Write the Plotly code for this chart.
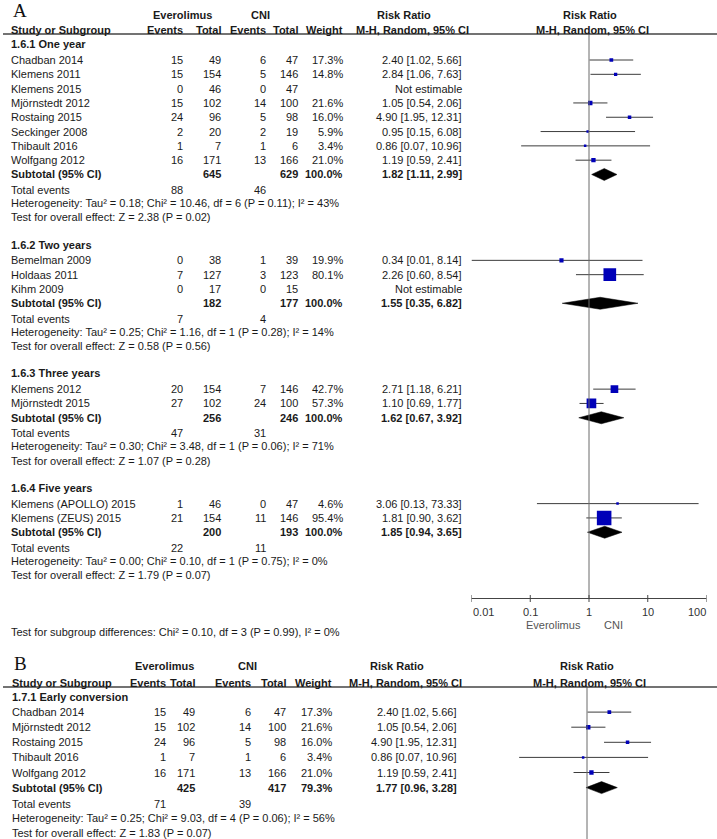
import math
import plotly.graph_objects as go

# ---------------- Panel A data ----------------
g1_name = "1.6.1 One year"
g1_study = ["Chadban 2014", "Klemens 2011", "Klemens 2015", "Mjörnstedt 2012", "Rostaing 2015",
            "Seckinger 2008", "Thibault 2016", "Wolfgang 2012"]
g1_ev_e = [15, 15, 0, 15, 24, 2, 1, 16]
g1_n_e = [49, 154, 46, 102, 96, 20, 7, 171]
g1_ev_c = [6, 5, 0, 14, 5, 2, 1, 13]
g1_n_c = [47, 146, 47, 100, 98, 19, 6, 166]
g1_w = [17.3, 14.8, None, 21.6, 16.0, 5.9, 3.4, 21.0]
g1_rr = [2.40, 2.84, None, 1.05, 4.90, 0.95, 0.86, 1.19]
g1_lo = [1.02, 1.06, None, 0.54, 1.95, 0.15, 0.07, 0.59]
g1_hi = [5.66, 7.63, None, 2.06, 12.31, 6.08, 10.96, 2.41]
g1_sub = [645, 629, 100.0, 1.82, 1.11, 2.99]
g1_tev = [88, 46]
g1_het = "Heterogeneity: Tau² = 0.18; Chi² = 10.46, df = 6 (P = 0.11); I² = 43%"
g1_test = "Test for overall effect: Z = 2.38 (P = 0.02)"

g2_name = "1.6.2 Two years"
g2_study = ["Bemelman 2009", "Holdaas 2011", "Kihm 2009"]
g2_ev_e = [0, 7, 0]
g2_n_e = [38, 127, 17]
g2_ev_c = [1, 3, 0]
g2_n_c = [39, 123, 15]
g2_w = [19.9, 80.1, None]
g2_rr = [0.34, 2.26, None]
g2_lo = [0.01, 0.60, None]
g2_hi = [8.14, 8.54, None]
g2_sub = [182, 177, 100.0, 1.55, 0.35, 6.82]
g2_tev = [7, 4]
g2_het = "Heterogeneity: Tau² = 0.25; Chi² = 1.16, df = 1 (P = 0.28); I² = 14%"
g2_test = "Test for overall effect: Z = 0.58 (P = 0.56)"

g3_name = "1.6.3 Three years"
g3_study = ["Klemens 2012", "Mjörnstedt 2015"]
g3_ev_e = [20, 27]
g3_n_e = [154, 102]
g3_ev_c = [7, 24]
g3_n_c = [146, 100]
g3_w = [42.7, 57.3]
g3_rr = [2.71, 1.10]
g3_lo = [1.18, 0.69]
g3_hi = [6.21, 1.77]
g3_sub = [256, 246, 100.0, 1.62, 0.67, 3.92]
g3_tev = [47, 31]
g3_het = "Heterogeneity: Tau² = 0.30; Chi² = 3.48, df = 1 (P = 0.06); I² = 71%"
g3_test = "Test for overall effect: Z = 1.07 (P = 0.28)"

g4_name = "1.6.4 Five years"
g4_study = ["Klemens (APOLLO) 2015", "Klemens (ZEUS) 2015"]
g4_ev_e = [1, 21]
g4_n_e = [46, 154]
g4_ev_c = [0, 11]
g4_n_c = [47, 146]
g4_w = [4.6, 95.4]
g4_rr = [3.06, 1.81]
g4_lo = [0.13, 0.90]
g4_hi = [73.33, 3.62]
g4_sub = [200, 193, 100.0, 1.85, 0.94, 3.65]
g4_tev = [22, 11]
g4_het = "Heterogeneity: Tau² = 0.00; Chi² = 0.10, df = 1 (P = 0.75); I² = 0%"
g4_test = "Test for overall effect: Z = 1.79 (P = 0.07)"

A_subgroup_test = "Test for subgroup differences: Chi² = 0.10, df = 3 (P = 0.99), I² = 0%"

# ---------------- Panel B data ----------------
b1_name = "1.7.1 Early conversion"
b1_study = ["Chadban 2014", "Mjörnstedt 2012", "Rostaing 2015", "Thibault 2016", "Wolfgang 2012"]
b1_ev_e = [15, 15, 24, 1, 16]
b1_n_e = [49, 102, 96, 7, 171]
b1_ev_c = [6, 14, 5, 1, 13]
b1_n_c = [47, 100, 98, 6, 166]
b1_w = [17.3, 21.6, 16.0, 3.4, 21.0]
b1_rr = [2.40, 1.05, 4.90, 0.86, 1.19]
b1_lo = [1.02, 0.54, 1.95, 0.07, 0.59]
b1_hi = [5.66, 2.06, 12.31, 10.96, 2.41]
b1_sub = [425, 417, 79.3, 1.77, 0.96, 3.28]
b1_tev = [71, 39]
b1_het = "Heterogeneity: Tau² = 0.25; Chi² = 9.03, df = 4 (P = 0.06); I² = 56%"
b1_test = "Test for overall effect: Z = 1.83 (P = 0.07)"

axis_ticks = [0.01, 0.1, 1, 10, 100]
axis_ticktext = ["0.01", "0.1", "1", "10", "100"]
label_left = "Everolimus"
label_right = "CNI"

# ---------------- styling / layout constants ----------------
W, H = 717, 839
FONT = "Liberation Sans, Arial, sans-serif"
TXT = "#1a1a1a"
SQ = "#0000b8"
LINEC = "#3c3c3c"

annotations = []
shapes = []
traces = []


def txt(x, y, s, anchor="left", bold=False, size=11, color=TXT, family=FONT, xref="x"):
    if bold:
        s = "<b>" + s + "</b>"
    annotations.append(dict(x=x, y=y, xref=xref, yref="y", text=s, showarrow=False,
                            xanchor=anchor, yanchor="middle", borderpad=0,
                            font=dict(family=family, size=size, color=color)))


def panel(groups, cols, y_first, dy, xaxis_name, diamond_h):
    ci_x, ci_y, sq_x, sq_y, sq_s = [], [], [], [], []
    i = 0
    for gi, g in enumerate(groups):
        (name, study, ev_e, n_e, ev_c, n_c, w, rr, lo, hi, sub, tev, het, test) = g
        y = y_first + dy * i
        txt(cols["study"], y - cols["head_off"], name, bold=True)
        i += 1
        for k in range(len(study)):
            y = y_first + dy * i
            txt(cols["study"], y, study[k])
            txt(cols["ev_e"], y, str(ev_e[k]), "right")
            txt(cols["n_e"], y, str(n_e[k]), "right")
            txt(cols["ev_c"], y, str(ev_c[k]), "right")
            txt(cols["n_c"], y, str(n_c[k]), "right")
            if w[k] is not None:
                txt(cols["w"], y, f"{w[k]:.1f}%", "right")
            if rr[k] is None:
                txt(cols["rr"], y, "Not estimable", "right")
            else:
                txt(cols["rr"], y, f"{rr[k]:.2f} [{lo[k]:.2f}, {hi[k]:.2f}]", "right")
                ci_x += [lo[k], hi[k], None]
                ci_y += [y, y, None]
                sq_x.append(rr[k])
                sq_y.append(y)
                sq_s.append(max(2.5, 0.38 * w[k] ** 0.8))
            i += 1
        # subtotal
        y = y_first + dy * i
        txt(cols["study"], y, "Subtotal (95% CI)", bold=True)
        txt(cols["n_e"], y, str(sub[0]), "right", bold=True)
        txt(cols["n_c"], y, str(sub[1]), "right", bold=True)
        txt(cols["w"], y, f"{sub[2]:.1f}%", "right", bold=True)
        txt(cols["rr"], y, f"{sub[3]:.2f} [{sub[4]:.2f}, {sub[5]:.2f}]", "right", bold=True)
        traces.append(go.Scatter(
            x=[sub[4], sub[3], sub[5], sub[3], sub[4]],
            y=[y, y - diamond_h, y, y + diamond_h, y],
            xaxis=xaxis_name, yaxis="y", mode="lines", fill="toself",
            fillcolor="black", line=dict(color="black", width=0.5),
            hoverinfo="skip", showlegend=False))
        i += 1
        y = y_first + dy * i + 1
        txt(cols["study"], y, "Total events")
        txt(cols["ev_e"], y, str(tev[0]), "right")
        txt(cols["ev_c"], y, str(tev[1]), "right")
        i += 1
        txt(cols["study"], y_first + dy * i, het)
        i += 1
        txt(cols["study"], y_first + dy * i, test)
        i += 2
    traces.insert(0, go.Scatter(x=ci_x, y=ci_y, xaxis=xaxis_name, yaxis="y", mode="lines",
                                line=dict(color=LINEC, width=1), hoverinfo="skip",
                                showlegend=False))
    traces.append(go.Scatter(x=sq_x, y=sq_y, xaxis=xaxis_name, yaxis="y", mode="markers",
                             marker=dict(symbol="square", color=SQ, size=sq_s, opacity=1,
                                         line=dict(width=0)),
                             hoverinfo="skip", showlegend=False))


def header(cols, y1, y2, yline, label, label_x, label_y, rr_c1, rr_c2, fp_c1, fp_c2, ev_c, cni_c):
    txt(label_x, label_y, label, "center", size=19, color="#111",
        family="Liberation Serif, Times New Roman, serif")
    txt(ev_c, y1, "Everolimus", "center", bold=True)
    txt(cni_c, y1, "CNI", "center", bold=True)
    txt(rr_c1, y1, "Risk Ratio", "center", bold=True)
    txt(fp_c1, y1, "Risk Ratio", "center", bold=True)
    txt(cols["study"], y2, "Study or Subgroup", bold=True)
    txt(cols["ev_e"], y2, "Events", "right", bold=True)
    txt(cols["n_e"], y2, "Total", "right", bold=True)
    txt(cols["ev_c"], y2, "Events", "right", bold=True)
    txt(cols["n_c"], y2, "Total", "right", bold=True)
    txt(cols["w"], y2, "Weight", "right", bold=True)
    txt(rr_c2, y2, "M-H, Random, 95% CI", "center", bold=True)
    txt(fp_c2, y2, "M-H, Random, 95% CI", "center", bold=True)
    shapes.append(dict(type="line", xref="x", yref="y", x0=3, x1=W, y0=yline, y1=yline,
                       line=dict(color="#444", width=1.3)))


# ---------------- Panel A ----------------
colsA = dict(study=10, ev_e=184, n_e=222, ev_c=267, n_c=299, w=344, rr=463, head_off=1.5)
groupsA = [
    (g1_name, g1_study, g1_ev_e, g1_n_e, g1_ev_c, g1_n_c, g1_w, g1_rr, g1_lo, g1_hi, g1_sub, g1_tev, g1_het, g1_test),
    (g2_name, g2_study, g2_ev_e, g2_n_e, g2_ev_c, g2_n_c, g2_w, g2_rr, g2_lo, g2_hi, g2_sub, g2_tev, g2_het, g2_test),
    (g3_name, g3_study, g3_ev_e, g3_n_e, g3_ev_c, g3_n_c, g3_w, g3_rr, g3_lo, g3_hi, g3_sub, g3_tev, g3_het, g3_test),
    (g4_name, g4_study, g4_ev_e, g4_n_e, g4_ev_c, g4_n_c, g4_w, g4_rr, g4_lo, g4_hi, g4_sub, g4_tev, g4_het, g4_test),
]
header(colsA, 15, 29.5, 34, "A", 20, 10, 404, 412, 590, 592, 182, 260)
panel(groupsA, colsA, 45.7, 14.31, "x2", 6)
AXIS_A_Y = 598.5
traces.append(go.Scatter(x=[1, 1], y=[34, AXIS_A_Y], xaxis="x2", yaxis="y", mode="lines",
                         line=dict(color="#6a6a6a", width=1), hoverinfo="skip", showlegend=False))

# axis line with ticks crossing it (drawn on the log scale)
ax_x = [axis_ticks[0], axis_ticks[-1], None]
ax_y = [AXIS_A_Y, AXIS_A_Y, None]
for t in axis_ticks:
    ax_x += [t, t, None]
    ax_y += [AXIS_A_Y - 3.5, AXIS_A_Y + 3.5, None]
traces.append(go.Scatter(x=ax_x, y=ax_y, xaxis="x2", yaxis="y", mode="lines",
                         line=dict(color="#444", width=1), hoverinfo="skip", showlegend=False))
for k, (t, lab) in enumerate(zip(axis_ticks, axis_ticktext)):
    anc = "left" if k == 0 else ("right" if k == len(axis_ticks) - 1 else "center")
    txt(math.log10(t), 612, lab, anc, color="#333", xref="x2")
txt(582, 624.5, label_left, "right", color="#555")
txt(603, 624.5, label_right, "left", color="#555")
txt(10, 632, A_subgroup_test)

# ---------------- Panel B ----------------
colsB = dict(study=11, ev_e=167, n_e=196, ev_c=252, n_c=287, w=333, rr=458, head_off=0)
groupsB = [
    (b1_name, b1_study, b1_ev_e, b1_n_e, b1_ev_c, b1_n_c, b1_w, b1_rr, b1_lo, b1_hi, b1_sub, b1_tev, b1_het, b1_test),
]
header(colsB, 666, 682.5, 687, "B", 20, 663, 397, 405, 587, 589, 164, 247)
panel(groupsB, colsB, 697, 15.1, "x3", 6)
traces.append(go.Scatter(x=[1, 1], y=[687, H], xaxis="x3", yaxis="y", mode="lines",
                         line=dict(color="#6a6a6a", width=1), hoverinfo="skip", showlegend=False))

fig = go.Figure(traces)
fig.update_layout(
    width=W, height=H, autosize=False,
    margin=dict(l=0, r=0, t=0, b=0, pad=0),
    paper_bgcolor="white", plot_bgcolor="rgba(0,0,0,0)",
    showlegend=False,
    xaxis=dict(range=[0, W], domain=[0, 1], visible=False, fixedrange=True),
    yaxis=dict(range=[H, 0], domain=[0, 1], visible=False, fixedrange=True),
    xaxis2=dict(type="log", range=[-2, 2], domain=[471.5 / W, 706.5 / W], anchor="free",
                position=0, visible=False, showgrid=False, zeroline=False, fixedrange=True),
    xaxis3=dict(type="log", range=[-2, 2], domain=[469.5 / W, 704.5 / W], anchor="free",
                position=0, visible=False, showgrid=False, zeroline=False, fixedrange=True),
    annotations=annotations,
    shapes=shapes,
)
fig.write_html("out.html", config={"displayModeBar": False},
               post_script="document.body.style.margin='0';document.body.style.overflow='hidden';")
